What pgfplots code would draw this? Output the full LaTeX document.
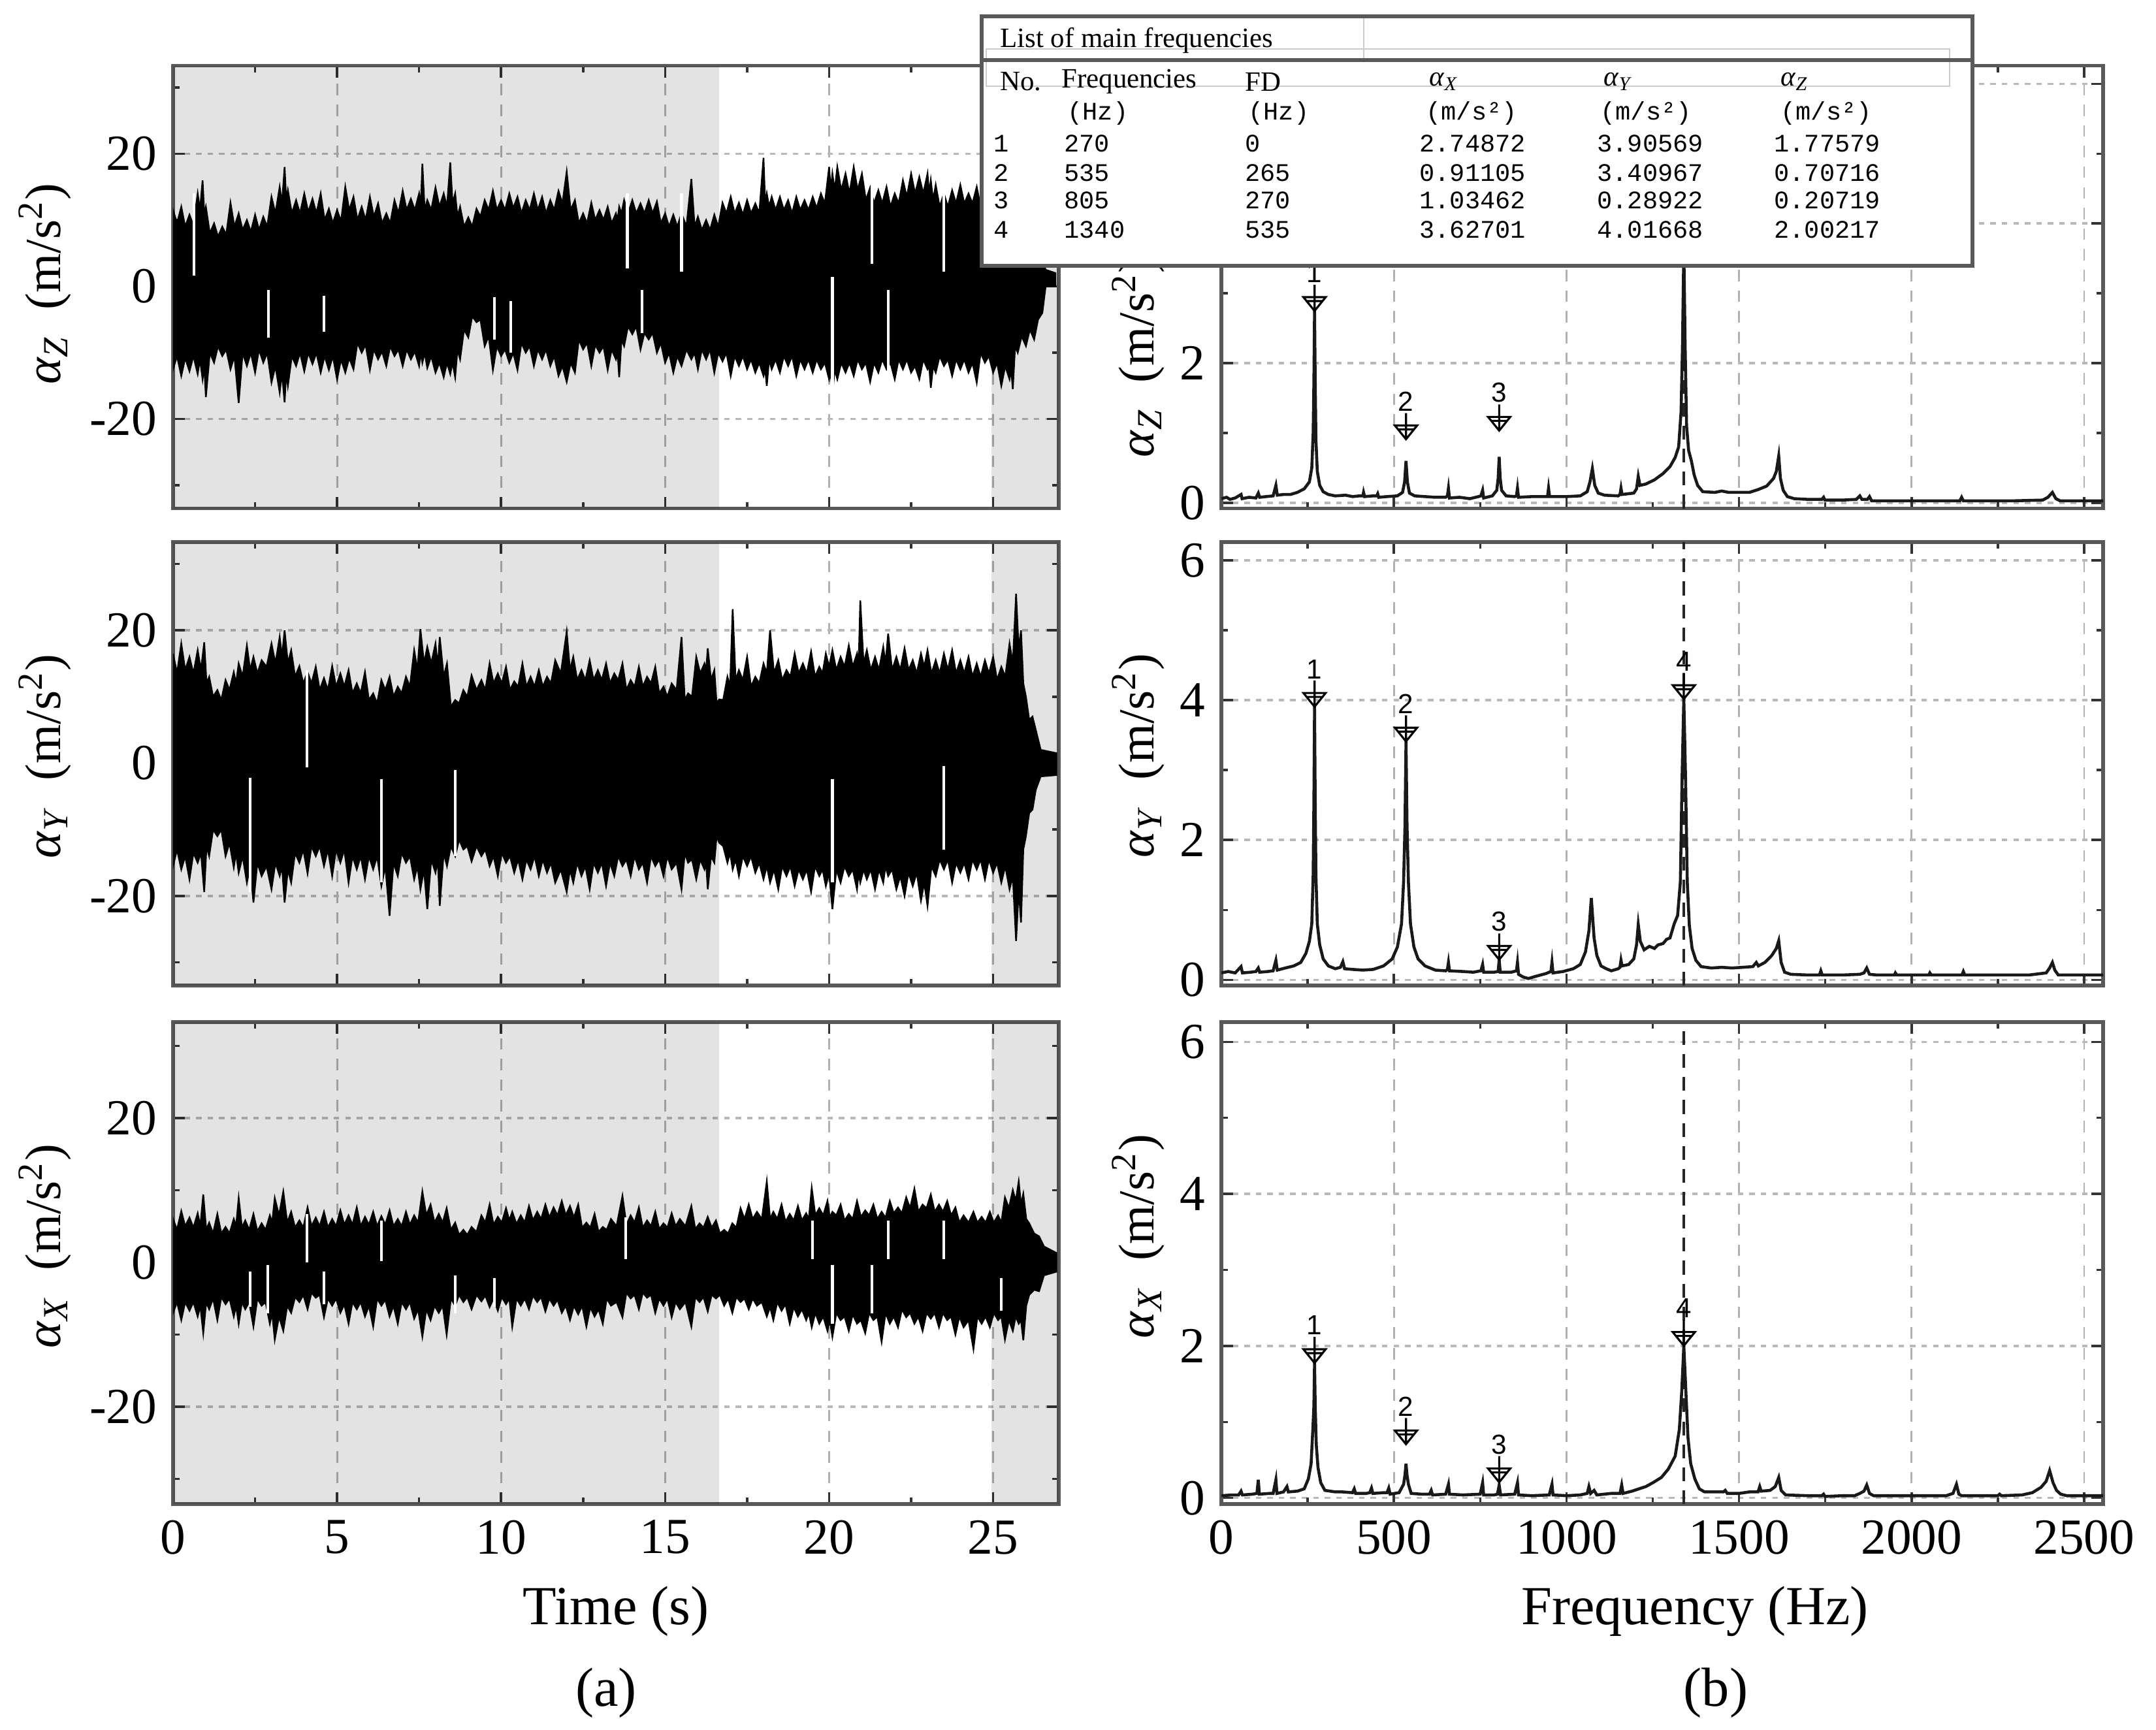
\documentclass[border=0pt]{standalone}
\usepackage{fontspec}
\setmainfont{Liberation Serif}
\newfontfamily\pksans{Liberation Sans}
\newfontfamily\tabmono{Liberation Mono}
\usepackage{pgfplots}
\usepackage{pgfplotstable}
\pgfplotsset{compat=1.18}

% peak cursor: open down-triangle with its tip on the value, stem above
\pgfdeclareplotmark{pk}{%
  \pgfpathmoveto{\pgfpointorigin}%
  \pgfpathlineto{\pgfpoint{-0.085cm}{0.105cm}}%
  \pgfpathlineto{\pgfpoint{0.085cm}{0.105cm}}%
  \pgfpathclose
  \pgfpathmoveto{\pgfpoint{-0.06cm}{0.075cm}}%
  \pgfpathlineto{\pgfpoint{0.06cm}{0.075cm}}%
  \pgfpathmoveto{\pgfpointorigin}%
  \pgfpathlineto{\pgfpoint{0cm}{0.2cm}}%
  \pgfusepathqstroke}

\pgfplotsset{
  panel/.style={
    scale only axis, anchor=north west,
    axis line style={gray!70!black, line width=0.8pt},
    tick align=inside,
    major tick length=0.09cm, minor tick length=0.05cm,
    tick style={gray!40!black, line width=0.5pt},
    grid=major,
    x grid style={gray!60, line width=0.4pt, dash pattern=on 2.5pt off 2pt},
    y grid style={gray!55, line width=0.5pt, dash pattern=on 1.2pt off 1.3pt},
    /pgf/number format/assume math mode=true,
    /pgf/number format/1000 sep={},
    tick label style={font=\fontsize{11}{13}\selectfont},
    every axis y label/.style={rotate=90, anchor=center, font=\fontsize{11}{13}\selectfont},
    every axis x label/.style={anchor=center, font=\fontsize{12}{14}\selectfont},
  },
  tpanel/.style={panel, width=6.78cm,
    xmin=0, xmax=27, ymin=-33.5, ymax=33.3,
    xtick={0,5,...,25}, minor xtick={2.5,7.5,...,22.5},
    ytick={-20,0,20}, minor ytick={-30,-10,10,30},
  },
  fpanel/.style={panel, width=6.75cm,
    xmin=0, xmax=2555, ymin=-0.08, ymax=6.26,
    xtick={0,500,...,2500}, minor xtick={250,750,...,2250},
    ytick={0,2,4,6}, minor ytick={1,3,5},
    scaled x ticks=false,
  },
  sigfill/.style={black, fill=black, line width=0.35pt},
  slit/.style={white, line width=0.6pt, unbounded coords=jump},
  spec/.style={black!90, line width=0.65pt},
  peakline/.style={black!85, line width=0.5pt, dash pattern=on 3pt off 2pt},
  peaks/.style={only marks, mark=pk, mark options={black, line width=0.45pt},
    nodes near coords, point meta=explicit symbolic,
    every node near coord/.append style={anchor=south, yshift=0.19cm, inner sep=0.5pt,
      font=\pksans\fontsize{6}{7}\selectfont}},
  bgband/.style={draw=none, fill=black, fill opacity=0.11},
}

% envelopes of the time signals (s, m/s^2)
\pgfplotstableread{
t up lo
0.00 11.5 -12.5
0.12 9.5 -10.5
0.25 12.0 -13.5
0.37 9.0 -10.8
0.50 10.8 -12.8
0.62 9.2 -10.5
0.75 14.0 -13.2
0.82 11.5 -11.0
0.90 16.0 -14.0
0.95 11.0 -12.0
1.00 12.0 -16.7
1.12 8.0 -10.0
1.25 9.5 -11.5
1.37 7.5 -9.0
1.50 9.0 -10.5
1.62 7.8 -9.5
1.75 12.6 -12.5
1.87 9.0 -10.5
2.00 11.0 -17.6
2.12 8.5 -10.0
2.25 10.0 -12.0
2.37 8.2 -10.0
2.50 10.8 -13.0
2.62 8.5 -9.5
2.75 10.5 -11.5
2.87 9.0 -10.0
3.00 13.5 -14.5
3.12 11.0 -12.0
3.25 15.0 -16.0
3.32 12.5 -13.0
3.40 18.0 -17.5
3.45 13.0 -13.0
3.50 14.5 -15.0
3.62 11.0 -10.5
3.75 13.0 -12.0
3.87 11.0 -10.0
4.00 14.0 -12.8
4.12 11.2 -10.0
4.25 13.2 -11.7
4.37 11.0 -10.0
4.50 14.0 -13.0
4.62 10.0 -10.5
4.75 11.7 -12.6
4.87 9.5 -10.5
5.00 11.5 -14.0
5.12 9.8 -11.0
5.25 15.0 -13.0
5.37 11.5 -10.8
5.50 13.5 -12.5
5.62 10.0 -8.5
5.75 12.0 -10.0
5.87 10.0 -8.8
6.00 13.5 -12.6
6.12 10.5 -9.5
6.25 12.5 -11.0
6.37 9.5 -9.8
6.50 11.0 -12.0
6.62 9.5 -9.0
6.75 13.0 -10.5
6.87 11.0 -9.5
7.00 14.4 -12.0
7.12 11.5 -9.5
7.25 13.2 -11.0
7.37 11.5 -9.8
7.50 14.0 -12.0
7.55 12.0 -10.0
7.60 18.5 -11.5
7.67 11.5 -10.0
7.75 13.0 -12.3
7.87 11.5 -10.5
8.00 14.9 -13.0
8.12 12.0 -11.5
8.25 14.0 -13.7
8.35 12.0 -11.5
8.45 18.7 -13.2
8.52 12.5 -11.5
8.60 14.0 -13.7
8.67 10.5 -9.5
8.75 12.0 -11.0
8.87 9.0 -6.5
9.00 10.4 -7.7
9.12 9.0 -4.5
9.25 11.7 -5.4
9.37 10.5 -5.0
9.50 13.0 -9.0
9.62 11.5 -7.5
9.75 14.4 -12.6
9.87 11.5 -9.0
10.00 13.0 -10.5
10.12 11.5 -9.5
10.25 14.0 -11.5
10.37 11.8 -10.0
10.50 13.5 -12.6
10.62 11.0 -8.5
10.75 13.0 -10.0
10.87 11.5 -9.0
11.00 14.0 -12.0
11.12 11.5 -9.5
11.25 13.5 -11.0
11.37 11.0 -9.5
11.50 13.0 -12.0
11.62 11.5 -10.5
11.75 14.4 -13.5
11.87 12.5 -12.0
12.00 17.3 -14.4
12.12 11.5 -11.5
12.25 13.0 -13.0
12.37 9.5 -8.0
12.50 11.0 -9.5
12.62 9.5 -8.5
12.75 12.6 -12.0
12.87 10.0 -8.8
13.00 11.5 -10.0
13.12 10.0 -9.0
13.25 12.0 -12.6
13.37 9.5 -9.5
13.50 11.0 -11.0
13.55 10.0 -10.0
13.60 12.0 -13.7
13.67 11.0 -8.0
13.75 13.0 -9.0
13.87 11.0 -6.0
14.00 13.0 -7.2
14.12 11.0 -6.0
14.25 12.5 -9.5
14.37 11.0 -7.0
14.50 13.0 -8.0
14.62 11.0 -7.0
14.75 12.8 -10.0
14.87 9.5 -8.5
15.00 11.0 -11.5
15.12 9.0 -10.0
15.25 10.8 -13.0
15.37 9.0 -10.5
15.50 11.0 -12.0
15.65 9.0 -9.5
15.80 16.2 -11.0
15.90 9.0 -10.0
16.00 10.5 -12.5
16.12 8.5 -9.5
16.25 10.0 -11.0
16.37 8.5 -9.5
16.50 10.8 -13.0
16.62 9.0 -10.0
16.75 12.6 -11.3
16.87 11.0 -10.0
17.00 13.5 -13.5
17.12 11.0 -10.5
17.25 12.6 -12.0
17.37 10.8 -10.5
17.50 13.0 -12.5
17.62 11.0 -11.0
17.75 12.5 -13.0
17.87 11.0 -11.5
18.00 19.4 -13.5
18.05 12.5 -12.5
18.10 14.0 -15.0
18.17 12.0 -11.0
18.25 13.5 -12.5
18.37 11.5 -11.0
18.50 13.5 -13.0
18.62 11.5 -10.5
18.75 13.0 -12.0
18.87 11.0 -10.5
19.00 13.5 -13.5
19.12 11.5 -11.0
19.25 13.0 -12.5
19.37 11.5 -11.0
19.50 13.5 -13.0
19.62 11.8 -11.0
19.75 14.0 -12.5
19.87 12.5 -11.5
20.00 18.0 -14.0
20.05 14.5 -13.0
20.10 17.0 -16.2
20.17 14.5 -12.5
20.25 18.0 -14.0
20.37 14.5 -11.5
20.50 17.0 -13.0
20.62 14.0 -11.5
20.75 18.0 -13.5
20.87 14.5 -11.0
21.00 17.0 -12.5
21.12 13.0 -11.5
21.25 14.9 -14.4
21.37 12.5 -11.5
21.50 14.5 -13.0
21.62 12.5 -11.0
21.75 15.0 -12.5
21.87 12.0 -11.5
22.00 14.0 -14.0
22.12 12.5 -11.0
22.25 16.0 -12.5
22.37 13.5 -11.0
22.50 17.0 -13.0
22.62 14.0 -12.0
22.75 16.5 -14.0
22.87 14.0 -11.0
23.00 17.0 -12.5
23.05 14.0 -12.0
23.10 16.0 -15.3
23.17 13.0 -12.0
23.25 15.3 -13.0
23.37 12.0 -10.5
23.50 14.0 -12.0
23.62 12.0 -11.0
23.75 14.5 -13.5
23.87 12.5 -11.0
24.00 15.3 -12.5
24.12 12.5 -11.0
24.25 14.0 -13.0
24.37 12.5 -11.5
24.50 15.0 -14.5
24.62 12.0 -10.0
24.75 14.0 -11.5
24.87 11.5 -10.5
25.00 13.0 -13.0
25.12 10.5 -11.5
25.25 12.0 -15.0
25.37 9.5 -12.0
25.50 11.0 -14.0
25.55 9.0 -12.5
25.60 10.0 -15.5
25.67 8.0 -9.0
25.75 9.0 -10.0
25.87 7.0 -7.5
26.00 8.0 -9.0
26.12 5.5 -6.5
26.25 6.0 -8.0
26.37 4.0 -5.0
26.50 4.0 -4.0
26.60 2.5 0.0
26.90 2.0 0.5
}\sigZ

\pgfplotstableread{
t up lo
0.00 16.5 -15.5
0.12 13.5 -13.0
0.25 18.0 -16.0
0.37 14.0 -14.0
0.50 16.0 -17.5
0.62 13.5 -13.5
0.75 17.0 -15.0
0.85 14.0 -13.5
0.95 18.2 -19.4
1.02 12.0 -12.5
1.10 13.0 -14.0
1.22 10.0 -10.0
1.35 11.0 -11.0
1.47 9.5 -10.0
1.60 12.5 -14.0
1.72 11.0 -12.0
1.85 13.7 -15.7
1.92 12.0 -13.5
2.00 15.0 -16.5
2.12 13.0 -14.0
2.25 17.7 -18.0
2.35 14.0 -15.5
2.45 16.0 -21.0
2.57 13.5 -15.0
2.70 15.5 -17.0
2.85 14.5 -15.5
3.00 18.0 -19.0
3.12 15.0 -15.0
3.25 19.0 -17.0
3.32 16.0 -15.5
3.40 20.0 -21.0
3.50 15.0 -16.0
3.60 17.0 -18.0
3.72 13.0 -13.5
3.85 14.6 -15.0
3.97 12.0 -13.0
4.10 13.7 -16.6
4.22 12.0 -12.5
4.35 14.5 -14.0
4.47 11.0 -12.5
4.60 12.8 -15.5
4.72 11.0 -13.0
4.85 14.6 -17.0
4.97 11.5 -13.0
5.10 13.5 -15.0
5.22 11.5 -13.0
5.35 14.0 -18.0
5.47 10.5 -14.0
5.60 12.0 -16.0
5.72 10.5 -14.0
5.85 13.7 -17.5
5.97 9.5 -14.0
6.10 10.5 -16.0
6.22 9.0 -14.0
6.35 12.5 -18.5
6.47 11.0 -15.5
6.60 13.0 -23.0
6.72 10.0 -15.0
6.85 11.5 -17.0
6.97 10.5 -13.5
7.10 13.0 -15.0
7.22 11.5 -14.0
7.35 17.0 -17.5
7.45 14.0 -15.5
7.54 20.2 -19.0
7.65 15.0 -16.0
7.75 17.5 -22.0
7.87 15.0 -14.5
8.00 18.0 -16.5
8.07 14.5 -14.5
8.13 19.0 -21.5
8.25 13.0 -13.5
8.35 15.0 -15.5
8.47 8.5 -12.5
8.60 9.5 -14.0
8.72 9.0 -11.5
8.85 11.0 -13.0
8.97 10.0 -12.5
9.10 13.2 -14.8
9.25 11.0 -12.5
9.40 12.5 -14.0
9.52 11.0 -13.0
9.65 15.0 -15.5
9.77 12.0 -14.0
9.90 13.5 -17.0
10.02 12.0 -13.5
10.15 14.5 -15.0
10.27 11.0 -14.0
10.40 12.3 -16.5
10.52 11.5 -14.5
10.65 15.0 -17.5
10.77 11.5 -14.5
10.90 13.0 -16.0
11.02 11.5 -14.0
11.15 14.0 -17.0
11.27 11.5 -14.5
11.40 13.0 -16.5
11.52 12.0 -15.0
11.65 15.5 -18.0
11.82 13.5 -16.0
12.00 19.8 -19.4
12.10 14.0 -16.0
12.20 16.0 -18.0
12.32 12.5 -15.0
12.45 14.0 -17.0
12.57 12.5 -15.5
12.70 15.5 -19.0
12.82 12.5 -15.0
12.95 14.0 -16.5
13.07 12.5 -15.0
13.20 15.0 -18.5
13.32 12.0 -15.0
13.45 13.5 -17.0
13.57 12.5 -14.0
13.70 15.0 -15.5
13.82 11.0 -14.5
13.95 12.5 -17.0
14.07 11.5 -14.0
14.20 14.5 -16.0
14.32 11.5 -15.0
14.45 13.0 -18.0
14.57 12.0 -14.0
14.70 14.5 -15.5
14.82 10.5 -14.5
14.95 11.5 -17.0
15.07 10.0 -14.0
15.20 12.0 -16.0
15.35 11.0 -15.0
15.50 19.0 -19.0
15.60 9.5 -13.5
15.70 10.5 -15.0
15.82 10.0 -14.5
15.95 16.0 -17.5
16.07 13.5 -14.5
16.20 15.0 -16.0
16.25 14.0 -15.0
16.30 17.3 -19.0
16.40 12.5 -14.0
16.50 14.0 -15.0
16.57 9.0 -11.0
16.65 9.6 -12.0
16.77 9.5 -12.5
16.90 13.0 -15.0
16.98 11.5 -13.5
17.06 23.2 -16.0
17.15 12.5 -14.5
17.25 14.0 -17.0
17.37 12.5 -14.0
17.50 16.0 -15.5
17.62 11.5 -14.0
17.75 13.0 -16.5
17.87 12.0 -15.0
18.00 15.0 -17.5
18.10 13.5 -15.5
18.20 20.0 -18.0
18.32 13.5 -16.0
18.45 15.5 -19.0
18.57 12.5 -15.5
18.70 14.0 -17.0
18.82 13.0 -15.5
18.95 16.5 -18.5
19.07 13.5 -16.0
19.20 15.0 -17.5
19.32 13.5 -16.0
19.45 16.8 -19.4
19.57 13.0 -15.5
19.70 14.5 -17.0
19.80 13.5 -16.0
19.90 16.5 -18.5
20.00 14.5 -16.5
20.10 17.0 -22.0
20.22 14.0 -16.0
20.35 16.0 -18.0
20.47 14.5 -15.5
20.60 17.7 -17.0
20.72 14.5 -16.0
20.85 16.5 -19.0
20.90 15.0 -16.5
20.95 24.5 -18.0
21.05 15.0 -16.0
21.15 17.0 -17.5
21.27 14.0 -16.0
21.40 16.0 -19.0
21.52 14.0 -16.0
21.65 17.5 -18.0
21.72 15.0 -15.5
21.80 19.5 -17.0
21.92 14.0 -16.0
22.05 16.0 -19.0
22.17 14.0 -17.0
22.30 17.3 -20.0
22.42 14.0 -16.5
22.55 15.5 -18.5
22.67 13.5 -16.5
22.80 16.5 -20.7
22.90 14.5 -18.0
23.00 17.0 -21.5
23.12 13.5 -15.5
23.25 15.5 -17.0
23.37 13.5 -14.5
23.50 16.5 -16.0
23.62 14.0 -14.5
23.75 17.0 -18.0
23.87 13.5 -15.0
24.00 15.5 -16.5
24.12 13.5 -15.0
24.25 16.0 -17.5
24.37 13.0 -14.5
24.50 15.0 -16.0
24.62 13.0 -14.5
24.75 15.5 -17.5
24.87 13.5 -14.5
25.00 16.0 -16.5
25.12 12.5 -15.0
25.25 14.5 -18.0
25.37 13.0 -15.5
25.50 18.0 -19.0
25.60 15.0 -17.0
25.70 25.5 -26.8
25.78 17.0 -19.0
25.85 20.0 -24.0
25.92 12.0 -13.0
26.00 10.0 -11.0
26.10 6.5 -7.5
26.20 7.0 -7.0
26.30 5.0 -4.0
26.45 2.0 -2.0
26.93 1.5 -1.8
}\sigY

\pgfplotstableread{
t up lo
0.00 6.0 -7.0
0.12 4.5 -5.5
0.25 7.1 -8.0
0.37 5.0 -5.5
0.50 6.2 -6.7
0.62 4.8 -5.5
0.75 6.8 -7.5
0.83 5.0 -6.0
0.92 9.4 -9.8
1.01 4.5 -5.5
1.10 5.5 -6.5
1.22 4.0 -5.0
1.35 6.7 -8.0
1.47 4.0 -4.8
1.60 4.9 -5.8
1.72 4.0 -5.0
1.85 6.0 -7.5
1.92 5.0 -6.0
2.00 8.9 -8.5
2.10 4.8 -5.5
2.20 5.8 -6.5
2.32 4.5 -5.5
2.45 6.7 -8.9
2.57 4.3 -5.0
2.70 5.4 -6.0
2.82 4.5 -5.5
2.95 6.5 -8.5
3.02 5.5 -7.0
3.10 8.9 -10.7
3.23 6.5 -7.5
3.36 9.8 -9.5
3.48 5.5 -6.0
3.60 7.0 -7.0
3.72 4.8 -4.8
3.85 5.8 -5.5
3.97 4.8 -4.5
4.10 7.6 -6.5
4.22 5.0 -4.2
4.35 6.2 -4.9
4.47 5.0 -4.5
4.60 7.0 -7.6
4.72 4.8 -5.0
4.85 6.0 -6.0
4.97 5.0 -5.0
5.10 7.2 -7.0
5.22 5.2 -5.8
5.35 6.5 -8.5
5.47 5.2 -5.5
5.60 7.6 -6.5
5.72 5.0 -5.5
5.85 6.3 -7.5
5.97 5.2 -6.0
6.10 7.0 -8.9
6.22 5.0 -5.0
6.35 6.4 -6.0
6.47 5.2 -5.2
6.60 7.2 -7.5
6.72 5.0 -6.0
6.85 6.0 -8.5
6.97 5.0 -5.5
7.10 7.0 -6.5
7.22 5.2 -5.5
7.35 6.5 -7.8
7.47 5.5 -6.5
7.60 9.8 -10.3
7.72 6.5 -6.5
7.85 8.0 -8.0
7.97 5.5 -6.0
8.10 6.7 -7.0
8.22 5.5 -6.0
8.34 7.5 -10.0
8.47 4.5 -5.0
8.60 5.5 -6.0
8.72 3.8 -4.5
8.85 4.5 -5.5
8.97 3.8 -4.8
9.10 4.9 -6.5
9.25 4.2 -4.5
9.40 6.5 -5.4
9.52 5.5 -4.6
9.65 8.0 -6.2
9.77 5.2 -5.0
9.90 6.3 -6.7
10.02 5.5 -4.8
10.15 7.5 -5.8
10.25 5.8 -5.0
10.34 7.0 -8.9
10.47 5.3 -5.0
10.60 6.5 -6.0
10.72 5.5 -5.0
10.85 7.8 -6.5
10.97 5.8 -4.6
11.10 7.0 -5.5
11.22 6.0 -4.8
11.35 8.0 -6.8
11.47 6.2 -5.0
11.60 7.6 -6.0
11.72 6.5 -5.2
11.85 8.5 -7.0
11.97 6.5 -6.0
12.10 7.8 -8.0
12.22 6.2 -6.0
12.35 8.0 -7.2
12.47 4.8 -6.0
12.60 5.5 -8.9
12.72 4.8 -6.2
12.85 6.7 -7.5
12.97 4.2 -6.5
13.10 4.9 -8.5
13.22 4.5 -5.0
13.35 6.0 -6.0
13.52 5.0 -5.5
13.70 9.2 -7.6
13.82 5.2 -4.2
13.95 6.5 -5.0
14.07 5.5 -4.5
14.20 7.6 -6.5
14.32 4.8 -4.2
14.45 5.8 -4.9
14.57 5.0 -4.5
14.70 7.0 -7.0
14.82 4.6 -5.0
14.95 5.4 -6.0
15.07 4.8 -5.0
15.20 6.8 -7.6
15.32 5.0 -5.5
15.45 6.0 -6.5
15.62 5.0 -5.5
15.80 7.8 -8.9
15.92 4.6 -4.8
16.05 5.4 -5.5
16.17 4.8 -4.8
16.30 6.3 -6.8
16.42 4.8 -4.5
16.55 5.8 -5.0
16.67 4.0 -4.5
16.80 4.5 -6.0
16.92 4.0 -5.0
17.05 5.4 -7.0
17.17 4.8 -4.8
17.30 7.5 -5.5
17.42 6.0 -5.0
17.55 8.0 -6.5
17.67 6.0 -5.0
17.80 7.0 -6.0
17.95 6.0 -5.5
18.10 11.2 -7.5
18.20 6.0 -6.2
18.30 7.0 -8.0
18.42 6.0 -5.5
18.55 8.0 -6.7
18.67 5.6 -5.8
18.80 6.7 -8.5
18.92 5.8 -6.2
19.05 7.8 -7.5
19.17 5.8 -6.5
19.30 6.8 -8.0
19.38 6.0 -7.0
19.47 10.3 -9.0
19.58 6.5 -7.0
19.70 7.5 -8.5
19.82 6.5 -7.5
19.95 8.5 -9.5
20.02 6.2 -8.0
20.10 7.0 -10.3
20.22 6.5 -7.0
20.35 8.0 -8.0
20.47 5.8 -7.5
20.60 6.7 -9.5
20.72 6.0 -7.2
20.85 8.5 -8.5
20.97 6.3 -8.0
21.10 7.2 -9.8
21.22 6.5 -7.0
21.35 8.0 -8.0
21.47 6.0 -7.5
21.60 7.0 -11.0
21.72 6.2 -7.0
21.85 8.5 -8.5
21.97 6.8 -7.5
22.10 7.6 -9.0
22.22 6.8 -6.5
22.35 9.0 -7.6
22.47 7.5 -7.0
22.60 10.2 -8.5
22.72 7.0 -7.5
22.85 8.0 -9.5
22.97 7.5 -7.0
23.10 9.4 -7.8
23.22 7.0 -7.0
23.35 8.0 -9.0
23.47 7.0 -7.0
23.60 8.5 -8.0
23.72 6.5 -7.5
23.85 7.6 -10.0
23.97 5.5 -7.5
24.10 6.5 -9.0
24.25 5.5 -8.0
24.40 7.0 -12.0
24.52 5.5 -7.5
24.65 6.3 -8.5
24.77 5.5 -7.5
24.90 7.0 -9.0
25.02 5.5 -7.0
25.15 6.5 -8.0
25.25 5.5 -7.5
25.36 9.0 -10.7
25.48 7.5 -8.0
25.60 10.0 -9.5
25.69 8.5 -7.5
25.78 11.2 -8.5
25.85 8.0 -8.0
25.92 9.5 -10.8
26.01 6.0 -6.0
26.10 5.4 -4.5
26.25 4.0 -3.8
26.40 3.6 -4.0
26.55 2.2 -1.8
26.93 1.3 -1.3
}\sigX

% amplitude spectra (Hz, m/s^2)
\pgfplotstableread{
f a
0 0.06
15 0.08
25 0.05
40 0.07
57 0.12
60 0.06
80 0.08
100 0.07
107 0.14
111 0.08
130 0.09
150 0.10
158 0.25
162 0.11
180 0.12
200 0.12
220 0.15
240 0.20
255 0.30
262 0.50
266 1.00
268 1.70
270 2.75
272 1.70
274 0.90
278 0.45
285 0.25
295 0.16
310 0.12
330 0.10
360 0.11
380 0.09
400 0.10
410 0.10
412 0.15
415 0.09
440 0.10
450 0.10
453 0.13
456 0.08
480 0.09
510 0.10
525 0.15
531 0.30
535 0.60
539 0.30
545 0.14
560 0.10
590 0.09
620 0.08
650 0.08
655 0.10
658 0.21
661 0.07
690 0.08
720 0.06
745 0.09
752 0.10
757 0.18
760 0.07
785 0.10
798 0.18
802 0.35
805 0.66
808 0.35
812 0.18
825 0.10
850 0.09
855 0.10
858 0.21
861 0.08
900 0.09
945 0.09
948 0.21
951 0.09
1000 0.09
1040 0.10
1060 0.16
1068 0.30
1075 0.49
1082 0.25
1092 0.14
1110 0.11
1150 0.10
1155 0.12
1158 0.21
1161 0.12
1195 0.14
1203 0.20
1208 0.38
1213 0.25
1230 0.27
1255 0.33
1280 0.42
1300 0.52
1315 0.65
1325 0.80
1332 1.30
1336 2.20
1340 3.63
1344 2.20
1348 1.10
1354 0.75
1362 0.60
1370 0.40
1380 0.25
1395 0.16
1430 0.15
1450 0.17
1470 0.15
1500 0.15
1530 0.15
1555 0.19
1580 0.24
1600 0.35
1608 0.45
1615 0.67
1620 0.35
1628 0.18
1640 0.09
1660 0.06
1700 0.05
1740 0.05
1745 0.08
1749 0.04
1800 0.04
1840 0.05
1850 0.10
1856 0.05
1872 0.05
1878 0.09
1884 0.03
1950 0.03
2000 0.03
2050 0.03
2100 0.03
2140 0.03
2145 0.08
2150 0.03
2230 0.03
2300 0.03
2380 0.04
2395 0.08
2408 0.15
2418 0.06
2430 0.03
2480 0.03
2555 0.03
}\specZ

\pgfplotstableread{
f a
0 0.10
20 0.12
40 0.10
57 0.19
61 0.10
85 0.11
100 0.12
107 0.17
111 0.11
135 0.12
150 0.13
158 0.28
162 0.14
185 0.17
210 0.20
230 0.25
245 0.38
255 0.55
262 0.80
266 1.50
268 2.50
270 3.91
272 2.50
274 1.50
278 0.80
285 0.50
295 0.30
310 0.20
330 0.16
345 0.18
352 0.26
357 0.16
380 0.15
410 0.14
440 0.15
470 0.20
495 0.30
510 0.47
522 0.80
528 1.40
532 2.20
535 3.41
538 2.20
542 1.40
548 0.80
558 0.47
570 0.30
590 0.20
620 0.14
650 0.13
655 0.15
658 0.25
661 0.13
700 0.12
730 0.11
752 0.13
757 0.22
760 0.11
790 0.11
802 0.12
805 0.29
808 0.11
840 0.11
855 0.13
858 0.25
861 0.08
875 0.04
890 0.02
910 0.05
940 0.09
955 0.12
958 0.25
961 0.10
990 0.12
1020 0.16
1040 0.22
1055 0.40
1065 0.70
1072 1.17
1080 0.60
1088 0.35
1100 0.20
1115 0.16
1130 0.13
1150 0.16
1155 0.18
1158 0.28
1161 0.20
1180 0.22
1195 0.30
1203 0.50
1208 0.79
1214 0.55
1225 0.43
1240 0.48
1255 0.45
1265 0.50
1280 0.52
1290 0.58
1300 0.60
1312 0.80
1322 0.92
1330 1.40
1335 2.90
1340 4.02
1345 2.90
1350 1.40
1356 0.78
1364 0.45
1375 0.28
1390 0.19
1420 0.17
1450 0.18
1480 0.17
1510 0.18
1540 0.19
1550 0.25
1556 0.20
1575 0.25
1595 0.35
1608 0.45
1615 0.56
1622 0.25
1632 0.11
1650 0.08
1700 0.07
1733 0.07
1737 0.13
1741 0.07
1800 0.07
1850 0.08
1862 0.10
1870 0.17
1878 0.08
1900 0.07
1950 0.07
1953 0.10
1957 0.07
2000 0.07
2050 0.07
2053 0.10
2057 0.07
2100 0.07
2146 0.07
2150 0.12
2154 0.07
2250 0.07
2340 0.07
2390 0.10
2400 0.17
2408 0.25
2415 0.14
2425 0.07
2480 0.07
2555 0.07
}\specY

\pgfplotstableread{
f a
0 0.03
30 0.04
50 0.04
57 0.09
61 0.04
90 0.05
103 0.06
107 0.24
110 0.05
140 0.06
150 0.06
158 0.24
161 0.06
180 0.08
190 0.15
194 0.08
220 0.09
240 0.12
252 0.25
260 0.45
265 0.90
268 1.20
270 1.78
272 1.20
275 0.70
280 0.40
288 0.20
300 0.10
330 0.08
350 0.08
380 0.07
385 0.12
389 0.06
420 0.06
430 0.07
435 0.13
439 0.06
470 0.07
480 0.07
485 0.13
489 0.05
515 0.07
528 0.18
532 0.30
535 0.45
538 0.30
542 0.18
550 0.06
580 0.05
603 0.05
608 0.10
612 0.04
650 0.05
658 0.18
661 0.05
700 0.04
750 0.05
757 0.20
760 0.04
790 0.04
800 0.05
805 0.17
809 0.04
850 0.05
858 0.20
861 0.04
900 0.03
950 0.04
958 0.18
961 0.04
1000 0.03
1040 0.04
1060 0.06
1065 0.15
1070 0.06
1080 0.10
1088 0.04
1130 0.06
1155 0.06
1160 0.17
1164 0.06
1190 0.09
1210 0.12
1230 0.15
1250 0.20
1275 0.27
1295 0.38
1315 0.55
1327 0.90
1334 1.40
1340 2.00
1346 1.40
1352 0.80
1360 0.45
1372 0.25
1385 0.12
1400 0.08
1430 0.08
1455 0.08
1460 0.10
1466 0.06
1500 0.06
1530 0.08
1555 0.08
1560 0.15
1564 0.09
1590 0.10
1605 0.15
1615 0.27
1622 0.10
1635 0.04
1700 0.03
1740 0.03
1745 0.05
1749 0.02
1800 0.03
1835 0.03
1850 0.06
1862 0.09
1870 0.17
1878 0.06
1890 0.03
1950 0.03
2050 0.03
2100 0.03
2120 0.06
2130 0.18
2137 0.05
2145 0.03
2200 0.03
2250 0.03
2255 0.05
2260 0.03
2320 0.04
2350 0.07
2375 0.14
2390 0.22
2400 0.36
2410 0.20
2420 0.10
2432 0.05
2450 0.03
2555 0.03
}\specX

\begin{document}
\begin{tikzpicture}

% ---------- (a) time histories ----------
\begin{axis}[tpanel, at={(1.325cm,-0.5025cm)}, height=3.39cm, xticklabels={},
  ylabel={\textit{α}\textsubscript{\textit{Z}}\enspace(m/s\textsuperscript{2})},
  ylabel style={at={(axis description cs:-0.145,0.507)}}]
\addplot[bgband] coordinates {(0,-33.5)(16.64,-33.5)(16.64,33.3)(0,33.3)};
\addplot[bgband] coordinates {(24.95,-33.5)(27,-33.5)(27,33.3)(24.95,33.3)};
\addplot[sigfill] table[x=t,y=up]{\sigZ} \closedcycle;
\addplot[sigfill] table[x=t,y=lo]{\sigZ} \closedcycle;
\addplot[slit] coordinates {(0.63,14)(0.63,1.6)(0.63,nan)(2.9,-0.5)(2.9,-7.7)(2.9,nan)
  (4.6,-1.4)(4.6,-6.8)(4.6,nan)(9.8,-1.6)(9.8,-8)(9.8,nan)(10.3,-2.2)(10.3,-10)(10.3,nan)
  (13.85,14)(13.85,2.7)(13.85,nan)(14.3,-0.5)(14.3,-7)(14.3,nan)(15.5,14)(15.5,2.2)(15.5,nan)
  (20.1,1.4)(20.1,-16.7)(20.1,nan)(21.3,17)(21.3,3.4)(21.3,nan)(21.8,-0.5)(21.8,-13)(21.8,nan)
  (23.5,15)(23.5,2.2)};
\end{axis}

\begin{axis}[tpanel, at={(1.325cm,-4.15cm)}, height=3.395cm, xticklabels={},
  ylabel={\textit{α}\textsubscript{\textit{Y}}\enspace(m/s\textsuperscript{2})},
  ylabel style={at={(axis description cs:-0.145,0.517)}}]
\addplot[bgband] coordinates {(0,-33.5)(16.64,-33.5)(16.64,33.3)(0,33.3)};
\addplot[bgband] coordinates {(24.95,-33.5)(27,-33.5)(27,33.3)(24.95,33.3)};
\addplot[sigfill] table[x=t,y=up]{\sigY} \closedcycle;
\addplot[sigfill] table[x=t,y=lo]{\sigY} \closedcycle;
\addplot[slit] coordinates {(4.08,14)(4.08,-0.6)(4.08,nan)(2.35,-2.2)(2.35,-19.4)(2.35,nan)
  (6.35,-2.4)(6.35,-18)(6.35,nan)(8.6,-1)(8.6,-14)(8.6,nan)(20.1,-2.4)(20.1,-18)(20.1,nan)
  (23.5,-0.4)(23.5,-13)};
\end{axis}

\begin{axis}[tpanel, at={(1.325cm,-7.825cm)}, height=3.69cm,
  ylabel={\textit{α}\textsubscript{\textit{X}}\enspace(m/s\textsuperscript{2})},
  ylabel style={at={(axis description cs:-0.145,0.535)}},
  xlabel={Time (s)}, xlabel style={at={(axis description cs:0.5,-0.2222)}}]
\addplot[bgband] coordinates {(0,-33.5)(16.64,-33.5)(16.64,33.3)(0,33.3)};
\addplot[bgband] coordinates {(24.95,-33.5)(27,-33.5)(27,33.3)(24.95,33.3)};
\addplot[sigfill] table[x=t,y=up]{\sigX} \closedcycle;
\addplot[sigfill] table[x=t,y=lo]{\sigX} \closedcycle;
\addplot[slit] coordinates {(4.08,6.7)(4.08,0)(4.08,nan)(6.35,5.8)(6.35,0.2)(6.35,nan)
  (13.8,6.2)(13.8,0.4)(13.8,nan)(2.35,-1.3)(2.35,-6.2)(2.35,nan)(2.88,-0.4)(2.88,-7.1)(2.88,nan)
  (4.6,-1.3)(4.6,-5.8)(4.6,nan)(8.6,-1.8)(8.6,-7.1)(8.6,nan)(9.8,-2.2)(9.8,-6.2)(9.8,nan)
  (19.5,5.8)(19.5,0.4)(19.5,nan)(20.1,-0.4)(20.1,-8.5)(20.1,nan)(21.3,-0.4)(21.3,-7.1)(21.3,nan)
  (21.8,5.8)(21.8,0.4)(21.8,nan)(23.5,5.8)(23.5,0.4)(23.5,nan)(25.25,-2.2)(25.25,-6.7)};
\end{axis}

% ---------- (b) spectra ----------
\begin{axis}[fpanel, at={(9.35cm,-0.5025cm)}, height=3.39cm, xticklabels={},
  yticklabels={0,2,{},{}},
  ylabel={\textit{α}\textsubscript{\textit{Z}}\enspace(m/s\textsuperscript{2})},
  ylabel style={at={(axis description cs:-0.094,0.342)}}]
\addplot[peakline] coordinates {(1340,-0.08)(1340,6.26)};
\addplot[spec] table[x=f,y=a]{\specZ};
\addplot[peaks] table[meta=n]{
x y n
270 2.74872 1
535 0.91105 2
805 1.03462 3
};
\end{axis}

\begin{axis}[fpanel, at={(9.35cm,-4.15cm)}, height=3.395cm, xticklabels={},
  ylabel={\textit{α}\textsubscript{\textit{Y}}\enspace(m/s\textsuperscript{2})},
  ylabel style={at={(axis description cs:-0.094,0.518)}}]
\addplot[peakline] coordinates {(1340,-0.08)(1340,6.26)};
\addplot[spec] table[x=f,y=a]{\specY};
\addplot[peaks] table[meta=n]{
x y n
270 3.90569 1
535 3.40967 2
805 0.28922 3
1340 4.01668 4
};
\end{axis}

\begin{axis}[fpanel, at={(9.35cm,-7.825cm)}, height=3.69cm,
  ylabel={\textit{α}\textsubscript{\textit{X}}\enspace(m/s\textsuperscript{2})},
  ylabel style={at={(axis description cs:-0.094,0.555)}},
  xlabel={Frequency (Hz)}, xlabel style={at={(axis description cs:0.537,-0.2222)}}]
\addplot[peakline] coordinates {(1340,-0.08)(1340,6.26)};
\addplot[spec] table[x=f,y=a]{\specX};
\addplot[peaks] table[meta=n]{
x y n
270 1.77579 1
535 0.70716 2
805 0.20719 3
1340 2.00217 4
};
\end{axis}

\node[font=\fontsize{12}{14}\selectfont] at (4.64,-12.96) {(a)};
\node[font=\fontsize{12}{14}\selectfont] at (13.135,-12.96) {(b)};

% ---------- list of main frequencies ----------
\fill[white] (7.515,-0.125) rectangle (15.1,-2.035);
\draw[gray!40, line width=0.4pt] (7.55,-0.375) rectangle (14.925,-0.66);
\draw[gray!40, line width=0.4pt] (10.44,-0.135) -- (10.44,-0.46);
\draw[gray!70!black, line width=0.9pt] (7.515,-0.125) rectangle (15.1,-2.035);
\draw[gray!70!black, line width=0.9pt] (7.515,-0.46) -- (15.1,-0.46);
\begin{scope}[every node/.style={anchor=west, inner sep=0pt, font=\fontsize{6.1}{7}\selectfont}]
\node at (7.65,-0.31) {List of main frequencies};
\node at (7.65,-0.625) {No.};
\node at (8.12,-0.625) {Frequencies};
\node at (9.525,-0.625) {FD};
\node at (10.935,-0.625) {\textit{α}\textsubscript{\textit{X}}};
\node at (12.27,-0.625) {\textit{α}\textsubscript{\textit{Y}}};
\node at (13.625,-0.625) {\textit{α}\textsubscript{\textit{Z}}};
\end{scope}
\begin{scope}[every node/.style={anchor=west, inner sep=0pt, font=\tabmono\fontsize{5.5}{6.5}\selectfont}]
\node at (8.165,-0.865) {(Hz)};
\node at (9.55,-0.865) {(Hz)};
\node at (10.91,-0.865) {(m/s²)};
\node at (12.245,-0.865) {(m/s²)};
\node at (13.625,-0.865) {(m/s²)};
\foreach \yy/\a/\b/\c/\d/\e/\f in {
  -1.10/1/270/0/2.74872/3.90569/1.77579,
  -1.325/2/535/265/0.91105/3.40967/0.70716,
  -1.535/3/805/270/1.03462/0.28922/0.20719,
  -1.76/4/1340/535/3.62701/4.01668/2.00217}{
  \node at (7.60,\yy) {\a};
  \node at (8.14,\yy) {\b};
  \node at (9.525,\yy) {\c};
  \node at (10.86,\yy) {\d};
  \node at (12.22,\yy) {\e};
  \node at (13.575,\yy) {\f};
}
\end{scope}

\pgfresetboundingbox
\path[use as bounding box] (0,0) rectangle (16.505,-13.245);
\end{tikzpicture}
\end{document}
